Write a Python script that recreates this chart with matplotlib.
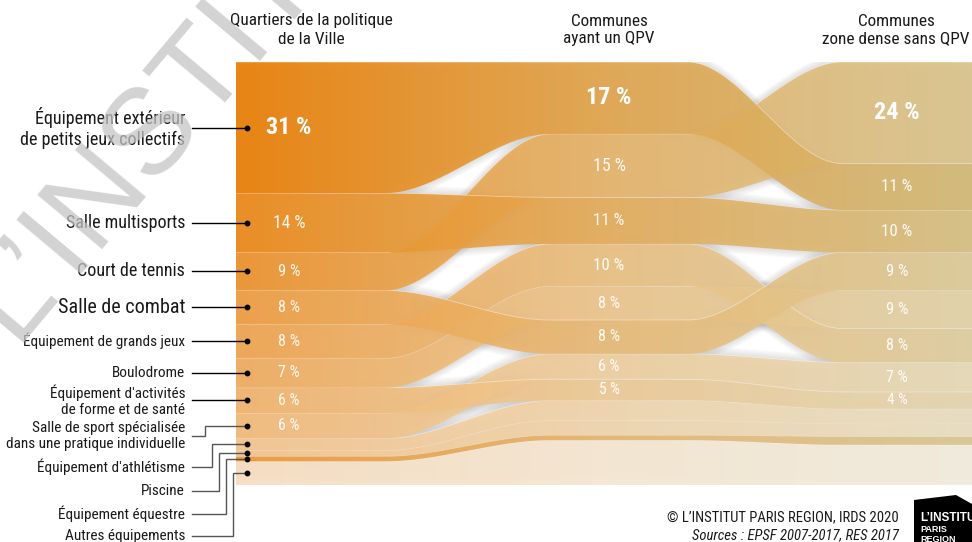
import os
import numpy as np
import matplotlib
matplotlib.use("Agg")
import matplotlib.pyplot as plt
from matplotlib.patches import PathPatch, Polygon
from matplotlib.path import Path
from matplotlib import font_manager

# ---------------- data ----------------
category_labels = [
    "Équipement extérieur\nde petits jeux collectifs",
    "Salle multisports",
    "Court de tennis",
    "Salle de combat",
    "Équipement de grands jeux",
    "Boulodrome",
    "Équipement d'activités\nde forme et de santé",
    "Salle de sport spécialisée\ndans une pratique individuelle",
    "Équipement d'athlétisme",
    "Piscine",
    "Équipement équestre",
    "Autres équipements",
]
column_titles = [
    "Quartiers de la politique\nde la Ville",
    "Communes\nayant un QPV",
    "Communes\nzone dense sans QPV",
]
share_qpv = [31, 14, 9, 8, 8, 7, 6, 6, 2.8, 1.4, 1.2, 5.6]
share_communes_qpv = [17, 11, 15, 8, 10, 8, 5, 6, 4.7, 3.5, 1.2, 10.6]
share_dense_sans_qpv = [11, 10, 24, 9, 8, 9, 4, 7, 3.5, 3.0, 2.0, 9.5]
order_qpv = [0, 1, 2, 3, 4, 5, 6, 7, 8, 9, 10, 11]
order_communes_qpv = [0, 2, 1, 4, 5, 3, 7, 6, 8, 9, 10, 11]
order_dense_sans_qpv = [2, 0, 1, 3, 5, 4, 7, 6, 8, 9, 10, 11]
n_labelled = 8
credit = "© L’INSTITUT PARIS REGION, IRDS 2020"
source = "Sources : EPSF 2007-2017, RES 2017"

columns = [share_qpv, share_communes_qpv, share_dense_sans_qpv]
orders = [order_qpv, order_communes_qpv, order_dense_sans_qpv]

# ---------------- fonts (prefer a condensed face) ----------------
chosen = None
prefs = ["roboto condensed", "liberation sans narrow", "robotocondensed",
         "liberationsansnarrow", "opensans_condensed", "opensanscondensed",
         "dejavusanscondensed", "notosans-condensed", "notosanscondensed", "condensed", "narrow"]
entries = font_manager.fontManager.ttflist
for p in prefs:
    for f in entries:
        base = os.path.basename(f.fname).lower().replace(" ", "")
        nm = f.name.lower()
        if (p.replace(" ", "") in base or p == nm) and f.style == "normal" and \
                f.weight in (400, "normal", "regular"):
            chosen = f
            break
    if chosen is not None:
        break
if chosen is not None:
    FONT = [chosen.name, "DejaVu Sans"]
    plt.rcParams["font.stretch"] = chosen.stretch
    k = 1.0
else:
    FONT = ["Liberation Sans", "DejaVu Sans"]
    k = 0.87
plt.rcParams["font.family"] = FONT

W, H = 972, 542
fig = plt.figure(figsize=(W / 100, H / 100), dpi=100)
fig.patch.set_facecolor("white")

# overlay in pixel coordinates for annotations
ov = fig.add_axes([0, 0, 1, 1])
ov.set_xlim(0, W)
ov.set_ylim(H, 0)
ov.axis("off")
ov.set_zorder(3)

# chart axes (percent on y)
X0, X1, YT, YB = 236, 972, 62, 485
ax = fig.add_axes([X0 / W, 1 - YB / H, (X1 - X0) / W, (YB - YT) / H])
ax.axis("off")
ax.set_zorder(2)

flats = [(236, 385), (550, 688), (842, 972)]
xs = np.linspace(X0, X1, 900)


def smooth(t):
    return t * t * (3 - 2 * t)


def edge(v):
    y = np.empty_like(xs)
    for i, x in enumerate(xs):
        if x <= flats[0][1]:
            y[i] = v[0]
        elif x < flats[1][0]:
            t = (x - flats[0][1]) / (flats[1][0] - flats[0][1])
            y[i] = v[0] + (v[1] - v[0]) * smooth(t)
        elif x <= flats[1][1]:
            y[i] = v[1]
        elif x < flats[2][0]:
            t = (x - flats[1][1]) / (flats[2][0] - flats[1][1])
            y[i] = v[1] + (v[2] - v[1]) * smooth(t)
        else:
            y[i] = v[2]
    return y


# stacked positions
n = len(category_labels)
tops = np.zeros((3, n))
for c in range(3):
    cum = 0.0
    for idx in orders[c]:
        tops[c, idx] = cum
        cum += columns[c][idx]
vals = np.array(columns, dtype=float)
bots = tops + vals

# colours
anchor_x = np.array([236, 609, 972])
anchor_c = np.array([[236, 125, 0], [226, 165, 75], [212, 186, 118]], dtype=float)
lighten = [0.0, 0.08, 0.16, 0.24, 0.30, 0.36, 0.42, 0.47, 0.55, 0.55, 0.2, 0.76]
N = 400
gx = np.linspace(X0, X1, N)
base = np.stack([np.interp(gx, anchor_x, anchor_c[:, j]) for j in range(3)], axis=1)

draw_order = list(range(n))[::-1]
px = (YB - YT) / 100.0
for z, idx in enumerate(draw_order):
    yt = edge(tops[:, idx])
    yb = edge(bots[:, idx])
    verts = np.concatenate([np.column_stack([xs, yt]), np.column_stack([xs[::-1], yb[::-1]])])
    # soft shadow (visible only in the gaps)
    for s in range(1, 8):
        for sgn in (1, -1):
            sh = verts.copy()
            sh[:, 1] += sgn * s * 1.1 / px
            ax.add_patch(Polygon(sh, closed=True, facecolor="#7a7a7a", edgecolor="none",
                                 alpha=0.03, zorder=1))
    patch = PathPatch(Path(verts), facecolor="none", edgecolor="none")
    ax.add_patch(patch)
    w = lighten[idx]
    col = base * (1 - w) + 255 * w
    img = np.zeros((1, N, 4))
    img[0, :, :3] = col / 255.0
    img[0, :, 3] = 0.9
    im = ax.imshow(img, extent=[X0, X1, 100, 0], aspect="auto", interpolation="bilinear",
                   zorder=10 + z)
    im.set_clip_path(patch)
    ax.plot(xs, yt, color="white", lw=0.6, alpha=0.45, zorder=10 + z)

ax.set_xlim(X0, X1)
ax.set_ylim(100, 0)

# percent labels
label_x = [289, 609, 897]
for c in range(3):
    first = orders[c][0]
    for idx in range(n_labelled):
        v = vals[c, idx]
        yc = tops[c, idx] + v / 2
        if idx == first:
            ax.text(label_x[c], yc, f"{v:g} %", color="white", fontsize=17.5 * k,
                    fontweight="bold", ha="center", va="center", zorder=50)
        else:
            fs = (11 + 0.17 * (v - 4)) * k
            ax.text(label_x[c], yc, f"{v:g} %", color="white", fontsize=fs, alpha=0.92,
                    ha="center", va="center", zorder=50)

# column titles
title_x = [311, 609, 896]
for c in range(3):
    ov.text(title_x[c], 30, column_titles[c], ha="center", va="center", fontsize=12.4 * k,
            color="#1a1a1a", linespacing=1.25)


def to_px(x, pct):
    d = ax.transData.transform((x, pct))
    return ov.transData.inverted().transform(d)


# category labels with leaders
DOT_X = 247
TEXT_END = 192
label_sizes = [13, 13, 13, 14.5, 11, 11, 11, 11, 11, 11, 11, 11]
fixed_y = {7: 436, 8: 467, 9: 491, 10: 514, 11: 536}
elbow_x = {7: 205, 8: 212, 9: 219, 10: 226, 11: 233}
for idx in range(n):
    dx, dy = to_px(DOT_X, tops[0, idx] + vals[0, idx] / 2)
    if idx in fixed_y:
        ty = fixed_y[idx]
        ex = elbow_x[idx]
        ov.plot([TEXT_END, ex, ex, dx], [ty, ty, dy, dy], color="#555555", lw=1.0,
                solid_joinstyle="miter")
    else:
        ty = dy
        ov.plot([TEXT_END, dx], [ty, dy], color="black", lw=1.0)
    ov.plot([dx], [dy], "o", color="black", ms=3.2, zorder=5)
    ov.text(TEXT_END - 7, ty, category_labels[idx], ha="right", va="center",
            fontsize=label_sizes[idx] * k, color="#1a1a1a", linespacing=1.2)

# watermark
ov.text(14, 342, "L’INSTITUT", rotation=50, rotation_mode="anchor", ha="left",
        va="baseline", fontsize=88, color="#c4c4c4", alpha=0.75, zorder=10,
        family=["Liberation Sans", "DejaVu Sans"])

# footer
ov.text(899, 517, credit, ha="right", va="center", fontsize=10.5 * k, color="#1a1a1a")
ov.text(899, 535, source, ha="right", va="center", fontsize=10.5 * k, color="#1a1a1a",
        style="italic")

# logo
ov.add_patch(Polygon([[914, 500], [956, 495], [972, 504], [972, 542], [914, 542]],
                     closed=True, facecolor="black", edgecolor="none", zorder=6))
ov.text(920, 518, "L’INSTITUT", color="white", fontsize=8.5, fontweight="bold",
        ha="left", va="center", zorder=7, family=["Liberation Sans", "DejaVu Sans"])
ov.text(920, 530, "PARIS", color="white", fontsize=6.5, fontweight="bold",
        ha="left", va="center", zorder=7, family=["Liberation Sans", "DejaVu Sans"])
ov.text(920, 539, "REGION", color="white", fontsize=6.5, fontweight="bold",
        ha="left", va="center", zorder=7, family=["Liberation Sans", "DejaVu Sans"])

fig.savefig("out.png", dpi=100, facecolor="white")
